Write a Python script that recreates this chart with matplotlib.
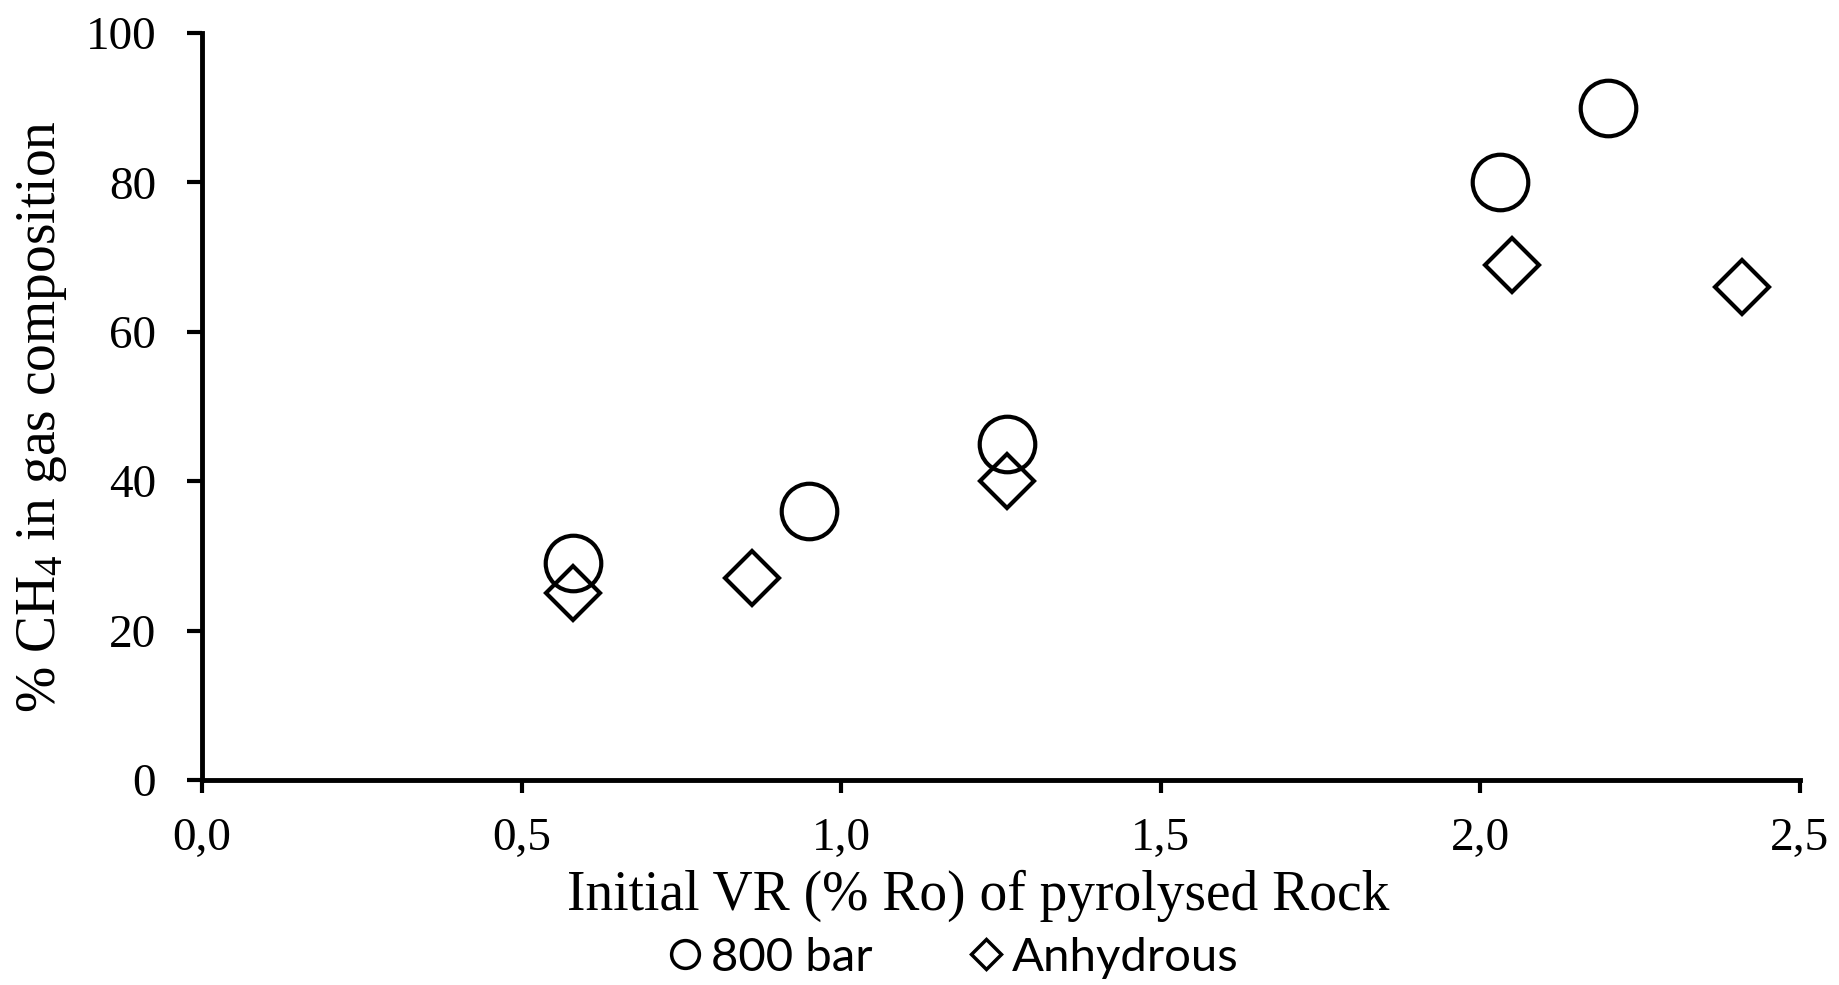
import matplotlib
matplotlib.use("Agg")
import matplotlib.pyplot as plt
from matplotlib.lines import Line2D
from matplotlib.ticker import FuncFormatter

# data
vr_800 = [0.58, 0.95, 1.26, 2.03, 2.20]
ch4_800 = [29, 36, 45, 80, 90]
vr_anh = [0.58, 0.86, 1.26, 2.05, 2.41]
ch4_anh = [25, 27, 40, 69, 66]
xticks = [0.0, 0.5, 1.0, 1.5, 2.0, 2.5]
yticks = [0, 20, 40, 60, 80, 100]

serif = "Liberation Serif"
sans = "Lato"

plt.rcParams["mathtext.fontset"] = "custom"
plt.rcParams["mathtext.rm"] = serif
plt.rcParams["mathtext.it"] = serif + ":italic"


def main():
    fig = plt.figure(figsize=(18.39, 9.85), dpi=100)
    ax = fig.add_axes([202 / 1839, 1 - 780 / 985, (1800 - 202) / 1839, (780 - 33) / 985])

    ax.plot(vr_800, ch4_800, linestyle="none", marker="o", markersize=40,
            markerfacecolor="none", markeredgecolor="black", markeredgewidth=3,
            clip_on=False)
    ax.plot(vr_anh, ch4_anh, linestyle="none", marker="D", markersize=28,
            markerfacecolor="none", markeredgecolor="black", markeredgewidth=3,
            clip_on=False)

    ax.set_xlim(0, 2.5)
    ax.set_ylim(0, 100)
    ax.set_xticks(xticks)
    ax.set_yticks(yticks)
    ax.xaxis.set_major_formatter(FuncFormatter(lambda v, p: f"{v:.1f}".replace(".", ",")))

    for s in ["top", "right"]:
        ax.spines[s].set_visible(False)
    for s in ["left", "bottom"]:
        ax.spines[s].set_linewidth(3.5)
    ax.tick_params(axis="y", direction="out", length=11, width=3, pad=22)
    ax.tick_params(axis="x", direction="out", length=9, width=3, pad=18)
    for lab in ax.get_xticklabels() + ax.get_yticklabels():
        lab.set_fontfamily(serif)
        lab.set_fontsize(34)

    ax.set_xlabel("Initial VR (% Ro) of pyrolysed Rock", family=serif, fontsize=40,
                  labelpad=7, x=0.486)
    ax.set_ylabel(r"% CH$_4$ in gas composition", family=serif, fontsize=40,
                  labelpad=12, y=0.487)

    handles = [
        Line2D([], [], linestyle="none", marker="o", markersize=20, markerfacecolor="none",
               markeredgecolor="black", markeredgewidth=2.5),
        Line2D([], [], linestyle="none", marker="D", markersize=15, markerfacecolor="none",
               markeredgecolor="black", markeredgewidth=2.5),
    ]
    fig.legend(handles, ["800 bar", "Anhydrous"], loc="center", bbox_to_anchor=(950 / 1839, 1 - 958 / 985),
               ncol=2, frameon=False, prop={"family": sans, "size": 34},
               handletextpad=0.05, columnspacing=1.92, handlelength=1.0)

    fig.savefig("out.png", dpi=100)


if __name__ == "__main__":
    main()
